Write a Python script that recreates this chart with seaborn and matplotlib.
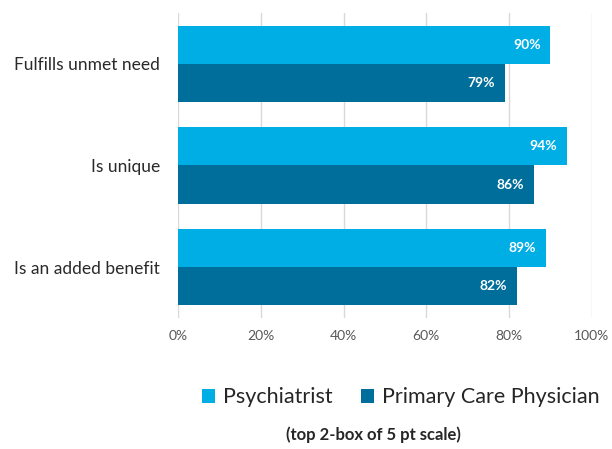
import matplotlib
matplotlib.use("Agg")
import matplotlib.pyplot as plt
import seaborn as sns
import pandas as pd
from matplotlib.patches import Patch

categories = ["Fulfills unmet need", "Is unique", "Is an added benefit"]
series_names = ["Psychiatrist", "Primary Care Physician"]
psychiatrist = [90, 94, 89]
primary_care = [79, 86, 82]
x_ticks = [0, 20, 40, 60, 80, 100]
x_tick_labels = ["0%", "20%", "40%", "60%", "80%", "100%"]
footnote = "(top 2-box of 5 pt scale)"
colors = ["#00AEE6", "#006E9A"]

df = pd.DataFrame({
    "category": categories * 2,
    "series": [series_names[0]] * 3 + [series_names[1]] * 3,
    "value": psychiatrist + primary_care,
})

sns.set_theme(style="white")
plt.rcParams["font.family"] = ["Lato", "DejaVu Sans"]

fig = plt.figure(figsize=(6.12, 4.49), dpi=100)
ax = fig.add_axes([0.291, 0.292, 0.676, 0.679])

sns.barplot(data=df, x="value", y="category", hue="series", orient="h",
            palette=colors, width=0.75, saturation=1, ax=ax, legend=False,
            linewidth=0)

ax.set_xlim(0, 100)
ax.set_ylim(2.5, -0.5)
ax.set_xticks(x_ticks)
ax.set_xticklabels(x_tick_labels, color="#595959", fontsize=10)
ax.tick_params(axis="x", length=0, pad=9)
ax.tick_params(axis="y", length=0, pad=13)
for lbl in ax.get_yticklabels():
    lbl.set_fontsize(12.5)
    lbl.set_color("#2a2a2a")
ax.set_xlabel("")
ax.set_ylabel("")
ax.grid(axis="x", color="#D9D9D9", linewidth=1)
ax.set_axisbelow(True)
for s in ax.spines.values():
    s.set_visible(False)

for cont in ax.containers:
    labels = [f"{int(round(b.get_width()))}%" for b in cont]
    ax.bar_label(cont, labels=labels, label_type="edge", padding=-27,
                 color="white", fontsize=10, fontweight="bold")

handles = [Patch(facecolor=c, edgecolor="none") for c in colors]
fig.legend(handles, series_names, loc="center", bbox_to_anchor=(0.655, 0.115),
           ncol=2, frameon=False, fontsize=15.5, handlelength=0.6, handleheight=0.6,
           handletextpad=0.4, columnspacing=1.3)

fig.text(0.61, 0.032, footnote, ha="center", va="center", fontsize=12,
         fontweight="bold", color="#262626")

fig.savefig("out.png", dpi=100)
